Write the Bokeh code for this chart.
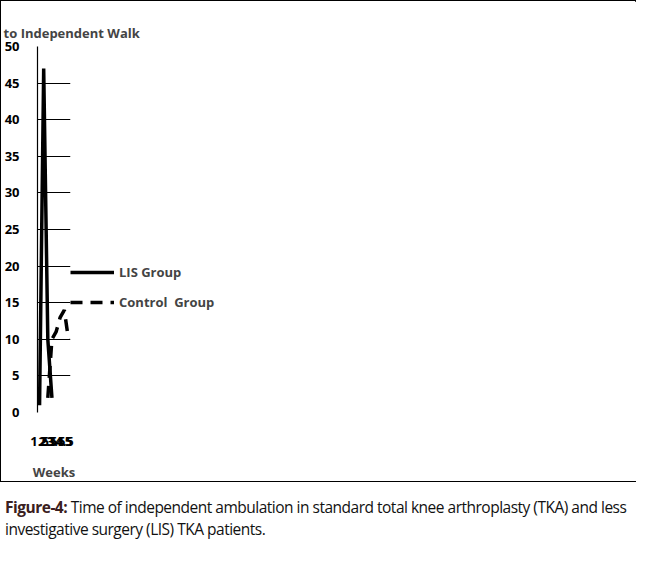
from bokeh.plotting import figure
from bokeh.models import Legend, LegendItem, Div, FixedTicker, Range1d
from bokeh.layouts import column
from bokeh.embed import file_html
from bokeh.resources import INLINE

weeks = ["1.5", "2", "2.5", "3", "3.5", "4", "4.5", "5"]
lis_weeks = ["1.5", "2", "2.5", "3"]
lis_vals = [1, 47, 10, 2]
ctrl_weeks = ["2.5", "3", "3.5", "4", "4.5", "5"]
ctrl_vals = [2, 10, 11, 13, 14, 10]
yticks = [0, 5, 10, 15, 20, 25, 30, 35, 40, 45, 50]

F = "Liberation Sans Narrow, Open Sans"
p = figure(width=636, height=482, x_range=weeks, y_range=Range1d(0, 50),
           output_backend="svg", toolbar_location=None,
           min_border_left=69, min_border_right=144, min_border_top=45, min_border_bottom=56,
           title="Time to Independent Walk")
p.styles = {"border": "1.5px solid black"}
p.title.align = "center"
p.title.text_font = F
p.title.text_font_size = "13px"
p.title.text_font_style = "bold"
p.title.offset = 0
p.outline_line_color = None
p.xgrid.grid_line_color = None
p.ygrid.grid_line_color = "black"
p.ygrid.grid_line_width = 1.2
p.yaxis.ticker = FixedTicker(ticks=yticks)
for ax in (p.xaxis[0], p.yaxis[0]):
    ax.major_tick_line_color = None
    ax.minor_tick_line_color = None
    ax.major_label_text_font = F
    ax.major_label_text_font_size = "13px"
    ax.major_label_text_font_style = "bold"
    ax.axis_label_text_font = F
    ax.axis_label_text_font_size = "13px"
    ax.axis_label_text_font_style = "bold"
    ax.major_label_text_color = "black"
p.xaxis.axis_line_color = None
p.yaxis.axis_line_color = "black"
p.yaxis.axis_line_width = 1.2
p.xaxis.major_label_standoff = 18
p.xaxis.axis_label = "Weeks"
p.xaxis.axis_label_standoff = 14
p.yaxis.axis_label = "Number of Patients"
p.yaxis.major_label_standoff = 12

r1 = p.line(lis_weeks, lis_vals, line_color="black", line_width=3.5)
r2 = p.line(ctrl_weeks, ctrl_vals, line_color="black", line_width=3.5, line_dash="12 8")

leg = Legend(items=[LegendItem(label="LIS Group", renderers=[r1]),
                    LegendItem(label="Control  Group", renderers=[r2])],
             location=(0, 100), border_line_color=None, background_fill_alpha=0,
             glyph_width=44, spacing=10, label_text_font=F, label_text_font_size="13px",
             label_text_font_style="bold", padding=0, margin=0)
p.add_layout(leg, "right")

cap = Div(width=636, text='<div style="font-family:\'Liberation Sans Narrow\',\'Open Sans\';font-size:15.5px;letter-spacing:-0.5px;line-height:1.4;color:#111;margin-top:6px">'
          '<b style="color:#3a2020">Figure-4:</b> Time of independent ambulation in standard total knee arthroplasty (TKA) '
          'and less investigative surgery (LIS) TKA patients.</div>')
lay = column(p, cap, spacing=4)
open("out.html", "w").write(file_html(lay, INLINE))
